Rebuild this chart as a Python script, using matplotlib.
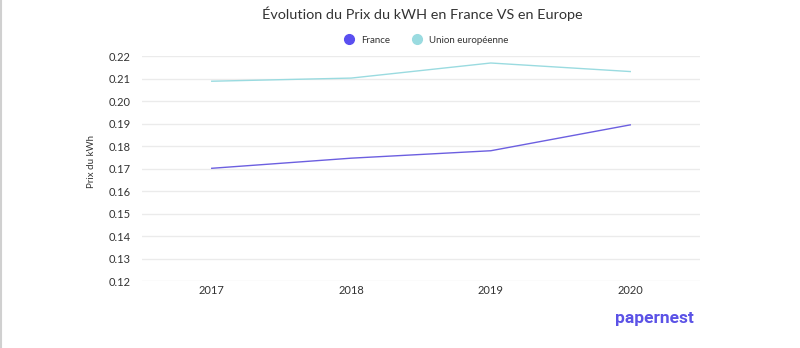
import matplotlib
matplotlib.use("Agg")
import matplotlib.pyplot as plt
from matplotlib.lines import Line2D

years = ["2017", "2018", "2019", "2020"]
france = [0.1701, 0.1746, 0.1779, 0.1894]
ue = [0.2088, 0.2102, 0.2169, 0.2131]
yticks = [0.12, 0.13, 0.14, 0.15, 0.16, 0.17, 0.18, 0.19, 0.20, 0.21, 0.22]

plt.rcParams['font.family'] = ['Lato', 'DejaVu Sans']

c_fr = "#6c5fe0"
c_ue = "#9adbe0"
txt = "#333333"

fig = plt.figure(figsize=(8, 3.48), dpi=100)
ax = fig.add_axes([0.1775, 0.1925, 0.6975, 0.6465])

x = list(range(len(years)))
ax.plot(x, france, color=c_fr, lw=1.0)
ax.plot(x, ue, color=c_ue, lw=1.0)

ax.set_xlim(-0.5, len(years) - 0.5)
ax.set_ylim(0.12, 0.22)
ax.set_yticks(yticks)
ax.set_yticklabels([f"{v:.2f}" for v in yticks], fontsize=8, color=txt)
ax.set_xticks(x)
ax.set_xticklabels(years, fontsize=8, color=txt)
ax.tick_params(axis='both', length=0)
ax.tick_params(axis='y', pad=8)
ax.tick_params(axis='x', pad=3)
ax.grid(axis='y', color="#ebebeb", lw=1)
ax.set_axisbelow(True)
for s in ax.spines.values():
    s.set_visible(False)

fig.text(0.115, 0.535, "Prix du kWh", rotation=90, fontsize=7, color=txt,
         ha='center', va='center')

fig.text(0.528, 0.96, "Évolution du Prix du kWH en France VS en Europe",
         ha='center', va='center', fontsize=10.4, color="#333333")

handles = [Line2D([], [], marker='o', ls='', color="#5a4ff0", markersize=7),
           Line2D([], [], marker='o', ls='', color=c_ue, markersize=7)]
fig.legend(handles, ["France", "Union européenne"], loc='center',
           bbox_to_anchor=(0.53, 0.885), ncol=2, frameon=False, fontsize=7,
           handletextpad=0.2, columnspacing=1.8, labelcolor=txt)

fig.text(0.8175, 0.085, "papernest", ha='center', va='center', fontsize=12.5,
         color="#5b52e6", weight='bold', family=['Roboto', 'DejaVu Sans'])

fig.add_artist(Line2D([0.001, 0.001], [0, 1], color="#d0d0d0", lw=1.5,
                      transform=fig.transFigure))

fig.savefig("out.png", dpi=100, facecolor="white")
